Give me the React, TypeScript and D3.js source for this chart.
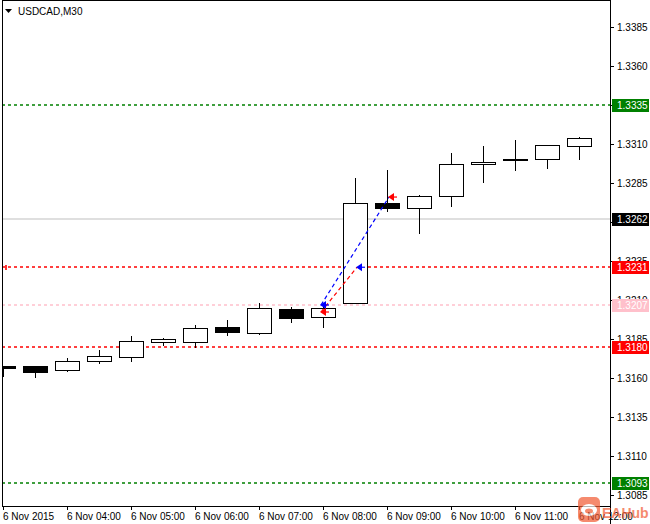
import * as d3 from "d3";

// 30-minute bars, 6 Nov 2015
const times = ["03:00", "03:30", "04:00", "04:30", "05:00", "05:30", "06:00", "06:30", "07:00", "07:30",
  "08:00", "08:30", "09:00", "09:30", "10:00", "10:30", "11:00", "11:30", "12:00"];
const opens = [1.31678, 1.31677, 1.31653, 1.31711, 1.31737, 1.31833, 1.31833, 1.31927, 1.31886, 1.32042,
  1.31989, 1.32079, 1.32722, 1.32692, 1.32765, 1.32970, 1.33006, 1.33002, 1.33085];
const highs = [1.31678, 1.31677, 1.31728, 1.31780, 1.31871, 1.31856, 1.31942, 1.31972, 1.32079, 1.32057,
  1.32068, 1.32880, 1.32933, 1.32773, 1.33042, 1.33087, 1.33126, 1.33092, 1.33147];
const lows = [1.31605, 1.31600, 1.31638, 1.31690, 1.31703, 1.31805, 1.31790, 1.31871, 1.31874, 1.31955,
  1.31919, 1.32079, 1.32666, 1.32521, 1.32698, 1.32852, 1.32929, 1.32942, 1.32999];
const closes = [1.31665, 1.31638, 1.31707, 1.31741, 1.31835, 1.31848, 1.31919, 1.31897, 1.32049, 1.31987,
  1.32049, 1.32720, 1.32692, 1.32765, 1.32970, 1.32983, 1.32999, 1.33092, 1.33137];

const priceTicks = [1.3385, 1.336, 1.3335, 1.331, 1.3285, 1.326, 1.3235, 1.321, 1.3185, 1.316, 1.3135, 1.311, 1.3085];
const timeTicks = ["03:00", "04:00", "05:00", "06:00", "07:00", "08:00", "09:00", "10:00", "11:00", "12:00"];
const timeTickLabels = ["6 Nov 2015", "6 Nov 04:00", "6 Nov 05:00", "6 Nov 06:00", "6 Nov 07:00",
  "6 Nov 08:00", "6 Nov 09:00", "6 Nov 10:00", "6 Nov 11:00", "6 Nov 12:00"];

// horizontal price levels
const levelPrices = [1.3335, 1.3262, 1.3231, 1.3207, 1.318, 1.3093];
const levelLabels = ["1.3335", "1.3262", "1.3231", "1.3207", "1.3180", "1.3093"];

// trades: [buy, sell]
const tradeOpenTimes = ["08:00", "08:00"];
const tradeCloseTimes = ["09:00", "08:30"];
const tradeOpenPrices = [1.32068, 1.32023];
const tradeClosePrices = [1.3276, 1.3231];

const levelStyle = [
  { line: "#008000", box: "#008000", text: "#fff", dash: "3 3" },
  { line: "#c0c0c0", box: "#000", text: "#fff", dash: "" },
  { line: "#ff0000", box: "#ff0000", text: "#fff", dash: "3 3" },
  { line: "#ffc0cb", box: "#ffc0cb", text: "#fff", dash: "3 3" },
  { line: "#ff0000", box: "#ff0000", text: "#fff", dash: "3 3" },
  { line: "#008000", box: "#008000", text: "#fff", dash: "3 3" },
];

const W = 650;
const H = 524;
const left = 2;
const top = 0;
const right = 610;
const bottom = 506;
const font = "'Liberation Sans', Arial, sans-serif";

export default function App() {
  const parse = d3.timeParse("%H:%M");
  const x = d3.scaleTime([parse("03:00")!, parse("12:00")!], [3, 579]);
  const y = d3.scaleLinear([1.3085, 1.3385], [495, 27]);
  const half = 12;
  const tradeColors = ["#0000ff", "#ff0000"];

  const arrow = (cx: number, cy: number, color: string, key: string) => (
    <g key={key}>
      <path d={`M${cx},${cy} L${cx + 6},${cy - 4} L${cx + 6},${cy + 4} Z`} fill={color} />
      <line x1={cx + 3} x2={cx + 9} y1={cy} y2={cy} stroke={color} strokeWidth={1.2} />
    </g>
  );

  return (
    <div style={{ position: "fixed", left: 0, top: 0, width: W, height: H, background: "#fff" }}>
      <svg width={W} height={H} style={{ display: "block" }} fontFamily={font} fontSize={10}>
        <defs>
          <clipPath id="plot">
            <rect x={left + 1} y={top + 1} width={right - left - 1} height={bottom - top - 1} />
          </clipPath>
        </defs>
        <rect width={W} height={H} fill="#fff" />

        <g clipPath="url(#plot)">
          {levelPrices.map((p, i) => {
            const ly = Math.round(y(p));
            return (
              <path key={i} d={`M${left},${ly}H${right}`} fill="none" stroke={levelStyle[i].line}
                strokeWidth={levelStyle[i].dash ? 1.6 : 1.2} strokeDasharray={levelStyle[i].dash || undefined} />
            );
          })}
          <path d={`M6,${Math.round(y(levelPrices[2])) - 2}V${Math.round(y(levelPrices[2])) + 3}`} stroke="#ff0000" strokeWidth={1.6} />

          {times.map((t, i) => {
            const cx = Math.round(x(parse(t)!)) + 0.5;
            const o = Math.round(y(opens[i]));
            const c = Math.round(y(closes[i]));
            const bull = closes[i] >= opens[i];
            const yTop = Math.min(o, c);
            const h = Math.max(Math.abs(o - c), 1);
            return (
              <g key={t} shapeRendering="crispEdges">
                <line x1={cx} x2={cx} y1={Math.round(y(highs[i]))} y2={Math.round(y(lows[i]))} stroke="#000" />
                {bull ? (
                  <rect x={cx - half} y={yTop + 0.5} width={half * 2} height={h} fill="#fff" stroke="#000" />
                ) : (
                  <rect x={cx - half - 0.5} y={yTop} width={half * 2 + 1} height={h + 1} fill="#000" />
                )}
              </g>
            );
          })}

          {tradeOpenTimes.map((t, i) => (
            <line key={"tl" + i} x1={x(parse(t)!) - 2} y1={y(tradeOpenPrices[i])}
              x2={x(parse(tradeCloseTimes[i])!) + 2} y2={y(tradeClosePrices[i])}
              stroke={tradeColors[i]} strokeWidth={1.2} strokeDasharray="4,3" />
          ))}
          {tradeOpenTimes.map((t, i) => arrow(x(parse(t)!) - 3, y(tradeOpenPrices[i]), tradeColors[i], "to" + i))}
          {tradeCloseTimes.map((t, i) => arrow(x(parse(t)!) + 1, y(tradeClosePrices[i]), tradeColors[1 - i], "tc" + i))}
        </g>

        {/* frame */}
        <g shapeRendering="crispEdges" stroke="#000">
          <line x1={left} x2={right + 1} y1={top + 0.5} y2={top + 0.5} />
          <line x1={left + 0.5} x2={left + 0.5} y1={top} y2={bottom + 1} />
          <line x1={right + 0.5} x2={right + 0.5} y1={top} y2={H} />
          <line x1={left} x2={right + 1} y1={bottom + 0.5} y2={bottom + 0.5} />
        </g>

        {/* title */}
        <path d="M5,9 L12,9 L8.5,13 Z" fill="#000" />
        <text x={18} y={15} fill="#000">USDCAD,M30</text>

        {/* price axis */}
        {priceTicks.map((p) => {
          const py = Math.round(y(p)) + 0.5;
          return (
            <g key={p}>
              <line x1={right} x2={right + 4} y1={py} y2={py} stroke="#000" shapeRendering="crispEdges" />
              <text x={617} y={py + 3.5} fill="#000">{p.toFixed(4)}</text>
            </g>
          );
        })}
        {levelPrices.map((p, i) => {
          const py = Math.round(y(p));
          return (
            <g key={"lb" + i}>
              <rect x={612} y={py - 6} width={37} height={13} fill={levelStyle[i].box} />
              <text x={617} y={py + 4} fill={levelStyle[i].text}>{levelLabels[i]}</text>
            </g>
          );
        })}

        {/* time axis */}
        {timeTicks.map((t, i) => {
          const tx = Math.round(x(parse(t)!)) + 0.5;
          return (
            <g key={t}>
              <line x1={tx} x2={tx} y1={bottom} y2={bottom + 4} stroke="#000" shapeRendering="crispEdges" />
              <text x={tx - 0.5} y={520} fill="#000">{timeTickLabels[i]}</text>
            </g>
          );
        })}

        {/* watermark */}
        <g opacity={0.7}>
          <rect x={578} y={497} width={22} height={25} rx={5} fill="#f25a32" />
          <ellipse cx={589} cy={510} rx={8} ry={6} fill="#fff" />
          <ellipse cx={589} cy={511} rx={4} ry={2.5} fill="#f25a32" />
          <text x={602} y={518} fontSize={14} fontWeight="bold" fill="#f25a32">EAHub</text>
        </g>
      </svg>
    </div>
  );
}
